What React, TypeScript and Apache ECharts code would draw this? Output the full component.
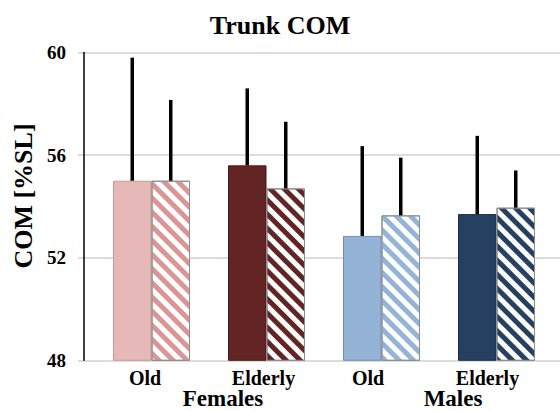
import React, { useEffect, useRef } from "react";
import * as echarts from "echarts";

const categories = ["Old", "Elderly", "Old", "Elderly"];
const groups = ["Females", "Males"];
const solidMeans = [55.0, 55.6, 52.85, 53.7];
const solidSD = [4.8, 3.0, 3.5, 3.05];
const hatchMeans = [55.0, 54.7, 53.65, 53.95];
const hatchSD = [3.15, 2.6, 2.25, 1.45];
const solidColors = ["#E6B9B8", "#632523", "#95B3D7", "#254061"];
const solidBorders = ["#C99A99", "#4A1A18", "#6F8CAE", "#1B2F48"];
const hatchColors = ["#DA9694", "#632523", "#95B3D7", "#254061"];
const yTicks = { min: 48, max: 60, interval: 4 };

const FONT = "Liberation Serif";
const BAR_W = 38.5;
const labelShift = [13, 6, 27, 18];

export default function App() {
  const ref = useRef<HTMLDivElement>(null);
  useEffect(() => {
    document.body.style.margin = "0";
    const chart = echarts.init(ref.current!, null, { renderer: "svg" });
    const errSeries = (means: number[], sds: number[], off: number) => ({
      type: "custom",
      xAxisIndex: 0,
      yAxisIndex: 0,
      z: 5,
      data: means.map((m, i) => [i, m, m + sds[i]]),
      encode: { x: 0, y: 1 },
      renderItem: (params: any, api: any) => {
        const i = api.value(0);
        const p1 = api.coord([i, api.value(1)]);
        const p2 = api.coord([i, api.value(2)]);
        return {
          type: "line",
          shape: { x1: p1[0] + off, y1: p1[1], x2: p1[0] + off, y2: p2[1] },
          style: { stroke: "#000", lineWidth: 3.5 },
        };
      },
    });
    chart.setOption({
      animation: false,
      textStyle: { fontFamily: FONT },
      grid: [
        { left: 94, right: 6, top: 52.5, bottom: 50.7, outerBoundsMode: "none", containLabel: false },
        { left: 78, right: 0, top: 52.5, bottom: 50.7, outerBoundsMode: "none", containLabel: false },
      ],
      xAxis: [
        {
          gridIndex: 0,
          type: "category",
          data: categories,
          axisLine: { show: false },
          axisTick: { show: false },
          axisLabel: {
            margin: 8,
            formatter: (v: string, i: number) => `{l${i}|${v}}`,
            rich: Object.fromEntries(
              labelShift.map((s, i) => [
                `l${i}`,
                { fontSize: 20, lineHeight: 20, fontWeight: "bold", color: "#000", fontFamily: FONT, padding: [0, s, 0, 0] },
              ])
            ),
          },
        },
        {
          gridIndex: 0,
          type: "category",
          data: groups,
          position: "bottom",
          offset: 20,
          axisLine: { show: false },
          axisTick: { show: false },
          axisLabel: {
            margin: 9,
            fontSize: 23,
            lineHeight: 18,
            fontWeight: "bold",
            color: "#000",
            fontFamily: FONT,
            padding: [0, 0, 0, 28],
          },
        },
        { gridIndex: 1, type: "value", show: false, min: 0, max: 1 },
      ],
      yAxis: [
        {
          gridIndex: 0,
          type: "value",
          min: yTicks.min,
          max: yTicks.max,
          interval: yTicks.interval,
          offset: 10,
          axisLine: { show: true, lineStyle: { color: "#000", width: 1.5 } },
          axisTick: { show: false },
          splitLine: { show: false },
          axisLabel: { margin: 18, fontSize: 19, fontWeight: "bold", color: "#000", fontFamily: FONT },
        },
        {
          gridIndex: 1,
          type: "value",
          min: yTicks.min,
          max: yTicks.max,
          interval: yTicks.interval,
          axisLine: { show: false },
          axisTick: { show: false },
          axisLabel: { show: false },
          splitLine: { show: true, lineStyle: { color: "#D0D0D0", width: 1.5 } },
        },
      ],
      graphic: [
        {
          type: "text",
          x: 280,
          y: 25,
          style: {
            text: "Trunk COM",
            fontFamily: FONT,
            fontSize: 26,
            fontWeight: "bold",
            fill: "#000",
            align: "center",
            verticalAlign: "middle",
          },
        },
        {
          type: "text",
          x: 23,
          y: 196,
          rotation: Math.PI / 2,
          style: {
            text: "COM [%SL]",
            fontFamily: FONT,
            fontSize: 26,
            fontWeight: "bold",
            fill: "#000",
            align: "center",
            verticalAlign: "middle",
          },
        },
      ],
      series: [
        {
          type: "bar",
          xAxisIndex: 0,
          yAxisIndex: 0,
          barWidth: BAR_W,
          barGap: "0%",
          data: solidMeans.map((v, i) => ({
            value: v,
            itemStyle: { color: solidColors[i], borderColor: solidBorders[i], borderWidth: 1 },
          })),
        },
        {
          type: "bar",
          xAxisIndex: 0,
          yAxisIndex: 0,
          barWidth: BAR_W,
          barGap: "0%",
          data: hatchMeans.map((v, i) => ({
            value: v,
            itemStyle: {
              color: "#fff",
              borderColor: "#8C8C8C",
              borderWidth: 1,
              decal: {
                symbol: "rect",
                symbolSize: 1,
                dashArrayX: [1, 0],
                dashArrayY: [4.2, 5],
                rotation: Math.PI / 4,
                color: hatchColors[i],
              },
            },
          })),
        },
        errSeries(solidMeans, solidSD, -BAR_W / 2),
        errSeries(hatchMeans, hatchSD, BAR_W / 2),
      ],
    });
    return () => chart.dispose();
  }, []);
  return <div ref={ref} style={{ width: 560, height: 411 }} />;
}
